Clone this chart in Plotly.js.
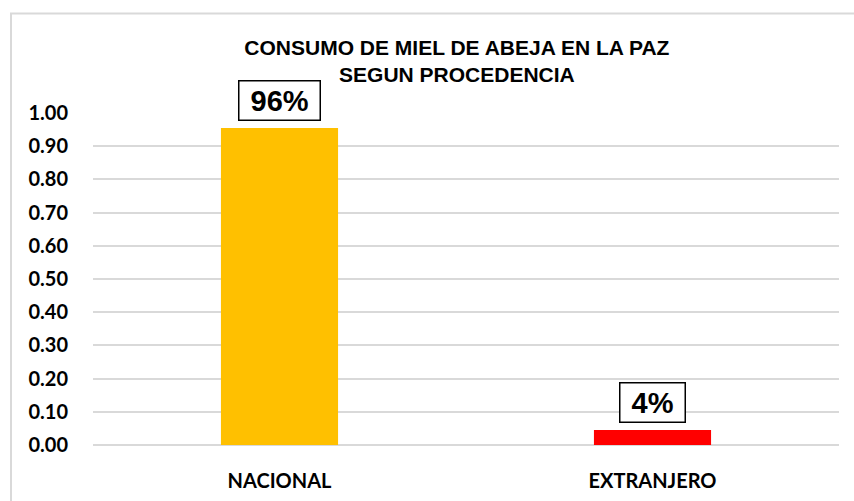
<!DOCTYPE html>
<html>
<head>
<meta charset="utf-8">
<script src="https://cdn.plot.ly/plotly-3.0.1.min.js"></script>
<style>html,body{margin:0;padding:0;background:#fff;}#chart{width:854px;height:501px;}</style>
</head>
<body>
<div id="chart"></div>
<script>
const categories = ["NACIONAL", "EXTRANJERO"];
const values = [0.955, 0.045];
const labels = ["96%", "4%"];
const barColors = ["#FFC000", "#FF0000"];
const yTicks = [0, 0.1, 0.2, 0.3, 0.4, 0.5, 0.6, 0.7, 0.8, 0.9, 1.0];
const titleText = "CONSUMO DE MIEL DE ABEJA EN LA PAZ<br>SEGUN PROCEDENCIA";

const trace = {
  type: "bar",
  x: categories,
  y: values,
  marker: {color: barColors},
  hoverinfo: "none"
};

const annotations = categories.map((c, i) => ({
  x: c, y: values[i], xref: "x", yref: "y",
  text: "\u00a0" + labels[i] + "\u00a0",
  showarrow: false,
  yanchor: "bottom",
  yshift: 7,
  font: {family: "Liberation Sans, Arial, sans-serif", size: 29, color: "#000", weight: "bold"},
  bordercolor: "#000",
  borderwidth: 1.5,
  borderpad: 3,
  bgcolor: "#fff"
}));

const layout = {
  width: 854, height: 501,
  margin: {l: 93, r: 15, t: 113, b: 56},
  paper_bgcolor: "#fff",
  plot_bgcolor: "#fff",
  showlegend: false,
  bargap: 0.686,
  title: {
    text: titleText,
    font: {family: "Liberation Sans, Arial, sans-serif", size: 21, color: "#000", weight: "bold"},
    x: 0.535, xanchor: "center",
    y: 0.89, yanchor: "middle"
  },
  xaxis: {
    range: [-0.5, 1.5],
    showgrid: false, zeroline: false, showline: false,
    ticks: "outside", ticklen: 18, tickcolor: "rgba(0,0,0,0)",
    tickfont: {family: "Lato, sans-serif", size: 20, color: "#000", weight: "bold"}
  },
  yaxis: {
    range: [0, 1.0],
    tickvals: yTicks,
    tickformat: ".2f",
    showgrid: true, gridcolor: "#d9d9d9", gridwidth: 2,
    zeroline: true, zerolinecolor: "#d9d9d9", zerolinewidth: 2,
    showline: false,
    ticks: "outside", ticklen: 20, tickcolor: "rgba(0,0,0,0)",
    tickfont: {family: "Lato, sans-serif", size: 20, color: "#000", weight: "bold"}
  },
  annotations: annotations,
  shapes: [{
    type: "rect", xref: "paper", yref: "paper",
    x0: -0.1099, x1: 1.05, y0: -0.3, y1: 1.3,
    line: {color: "#d9d9d9", width: 2},
    fillcolor: "rgba(0,0,0,0)", layer: "below"
  }]
};

Plotly.newPlot("chart", [trace], layout, {displayModeBar: false, staticPlot: true});
</script>
</body>
</html>
